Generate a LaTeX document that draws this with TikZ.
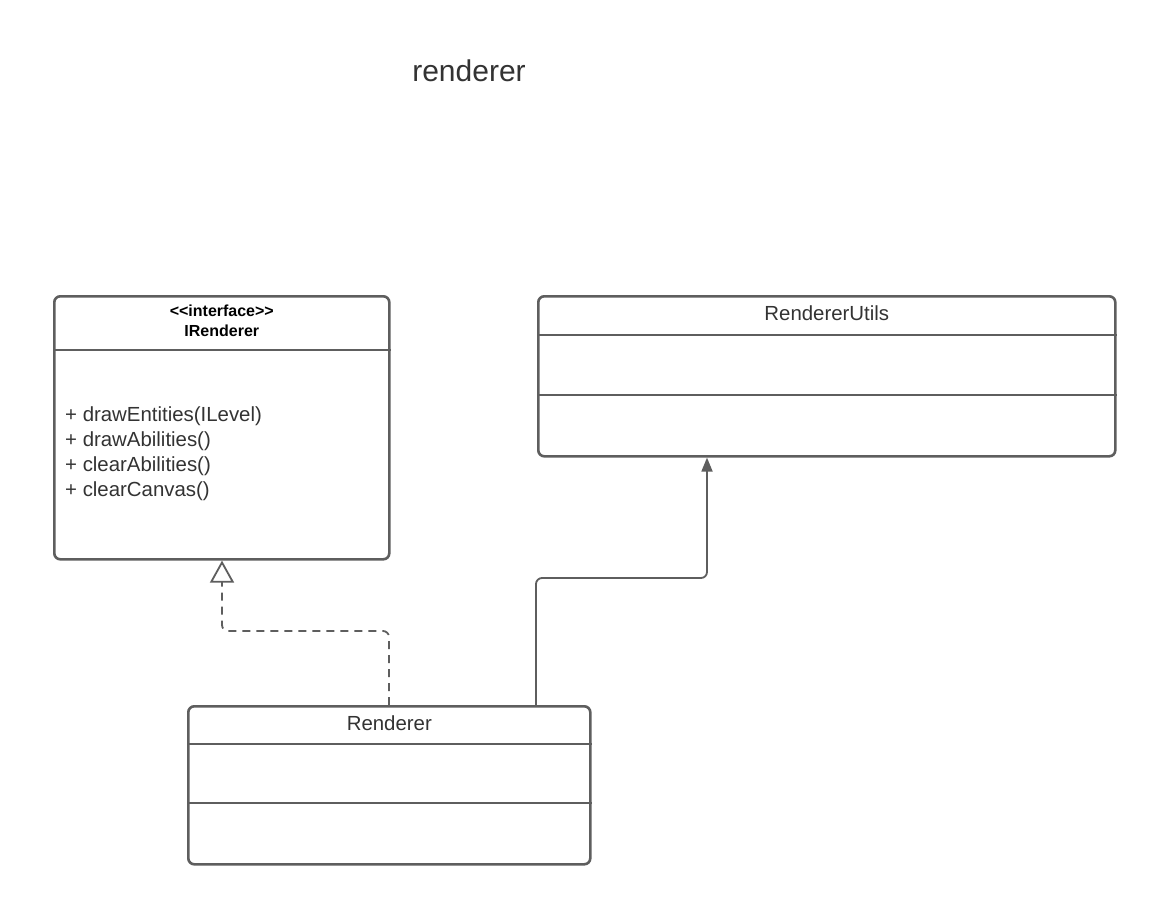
\documentclass[tikz,border=0pt]{standalone}
\usepackage{fontspec}
\setmainfont{Liberation Sans}
% same face without TeX ligatures, so that << stays as two characters
\newfontfamily\umlplain{Liberation Sans}
\usetikzlibrary{arrows.meta,calc}
\definecolor{umlline}{HTML}{5E5E5E}
\definecolor{umltext}{HTML}{333333}
\begin{document}
\begin{tikzpicture}[x=1pt,y=-1pt,
  classbox/.style={draw=umlline, line width=2.6pt, rounded corners=6pt, fill=white,
                   inner sep=0pt, anchor=north west},
  compart/.style={draw=umlline, line width=2.6pt},
  conn/.style={draw=umlline, line width=1.8pt, rounded corners=6pt},
  label/.style={text=umltext, inner sep=0pt, font=\fontsize{20.4}{25}\selectfont},
]
\useasboundingbox[fill=white] (0,0) rectangle (1149,899);

% package title
\node[label, font=\fontsize{30}{35}\selectfont] (title) at (469,71) {renderer};

% class boxes
\node[classbox, minimum width=335pt, minimum height=263pt] (iface) at (53,295) {};
\node[classbox, minimum width=577pt, minimum height=160pt] (utils) at (537,295) {};
\node[classbox, minimum width=402pt, minimum height=158pt] (impl) at (187,705) {};

% compartments
\draw[compart] ($(iface.north west)+(0,55)$) -- ($(iface.north east)+(0,55)$);
\draw[compart] ($(utils.north west)+(0,40)$) -- ($(utils.north east)+(0,40)$);
\draw[compart] ($(utils.north west)+(0,100)$) -- ($(utils.north east)+(0,100)$);
\draw[compart] ($(impl.north west)+(0,39)$) -- ($(impl.north east)+(0,39)$);
\draw[compart] ($(impl.north west)+(0,98)$) -- ($(impl.north east)+(0,98)$);

% names and operations
\node[label, text=black, font=\umlplain\fontsize{16}{20}\bfseries, align=center] (ifacename)
  at ($(iface.north)+(0,26)$) {<<interface>>\\IRenderer};
\node[label, align=left, anchor=west] (ifaceops) at ($(iface.north west)+(12,159)$)
  {+ drawEntities(ILevel)\\+ drawAbilities()\\+ clearAbilities()\\+ clearCanvas()};
\node[label] (utilsname) at ($(utils.north)+(0,18)$) {RendererUtils};
\node[label] (implname) at ($(impl.north)+(0,18)$) {Renderer};

% realization: Renderer implements IRenderer
\coordinate (realfrom) at ($(impl.north west)+(202,0)$);
\coordinate (realto) at ($(iface.south west)+(169,0)$);
\draw[conn, dash pattern=on 8pt off 6pt, -{Triangle[open, width=24pt, length=22pt, fill=white]}]
  (realfrom) -- ($(realfrom)+(0,-74)$) -| (realto);

% dependency: Renderer uses RendererUtils
\coordinate (usefrom) at ($(impl.north west)+(349,0)$);
\coordinate (useto) at ($(utils.south west)+(170,0)$);
\draw[conn, -{Triangle[width=11pt, length=14pt]}]
  (usefrom) -- ($(usefrom)+(0,-127)$) -| (useto);
\end{tikzpicture}
\end{document}
